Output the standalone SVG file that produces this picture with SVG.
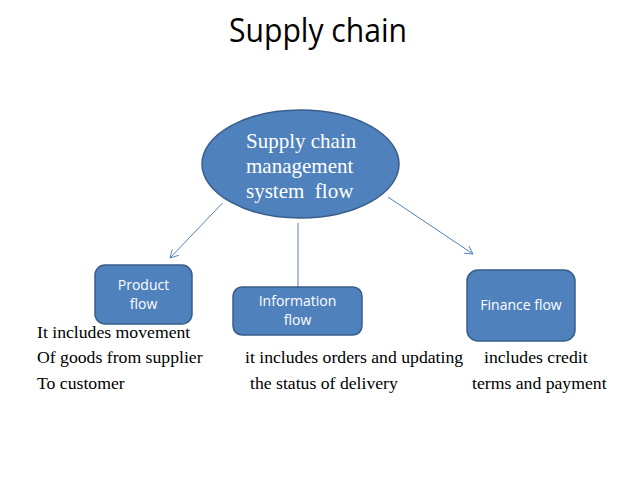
<svg xmlns="http://www.w3.org/2000/svg" width="638" height="479" viewBox="0 0 638 479">
<defs>
<style>
.title{font-family:"Open Sans","Liberation Sans",sans-serif;font-size:33px;fill:#000}
.node{fill:#4F81BD;stroke:#385D8A;stroke-width:1.5}
.ntxt{font-family:"Open Sans","Liberation Sans",sans-serif;font-size:14px;fill:#fff;text-anchor:middle}
.etxt{font-family:"Liberation Serif","Times New Roman",serif;font-size:21px;fill:#fff}
.desc{font-family:"Liberation Serif","Times New Roman",serif;font-size:17.7px;fill:#000}
.conn{stroke:#4F81BD;stroke-width:1;fill:none}
</style>
<marker id="arr" viewBox="0 0 10 10" refX="9" refY="5" markerWidth="9" markerHeight="9" orient="auto" markerUnits="userSpaceOnUse">
<path d="M0,0 L9,5 L0,10" fill="none" stroke="#4F81BD" stroke-width="1"/>
</marker>
</defs>
<rect width="638" height="479" fill="#fff"/>
<text class="title" x="229" y="42" textLength="178" lengthAdjust="spacingAndGlyphs">Supply chain</text>
<g id="connectors">
<line class="conn" x1="222.5" y1="203" x2="170" y2="258" marker-end="url(#arr)"/>
<line class="conn" x1="298" y1="223" x2="298" y2="287"/>
<line class="conn" x1="388" y1="197" x2="473" y2="254" marker-end="url(#arr)"/>
</g>
<g id="scm">
<ellipse class="node" cx="300.5" cy="164" rx="98.5" ry="54"/>
<text class="etxt" x="246" y="148">Supply chain</text>
<text class="etxt" x="246" y="173">management</text>
<text class="etxt" x="246" y="198" xml:space="preserve">system  flow</text>
</g>
<g id="product">
<rect class="node" x="95" y="265" width="97" height="59" rx="10"/>
<text class="ntxt" x="143.5" y="290">Product</text>
<text class="ntxt" x="143.5" y="309">flow</text>
</g>
<g id="information">
<rect class="node" x="233" y="287" width="129" height="48" rx="9"/>
<text class="ntxt" x="297.5" y="306">Information</text>
<text class="ntxt" x="297.5" y="325">flow</text>
</g>
<g id="finance">
<rect class="node" x="467" y="270" width="108" height="71" rx="11"/>
<text class="ntxt" x="521" y="310">Finance flow</text>
</g>
<g id="descriptions">
<text class="desc" x="37" y="338">It includes movement</text>
<text class="desc" x="37" y="363">Of goods from supplier</text>
<text class="desc" x="37" y="389">To customer</text>
<text class="desc" x="245" y="363">it includes orders and updating</text>
<text class="desc" x="250" y="389">the status of delivery</text>
<text class="desc" x="484" y="363">includes credit</text>
<text class="desc" x="472" y="389">terms and payment</text>
</g>
</svg>
